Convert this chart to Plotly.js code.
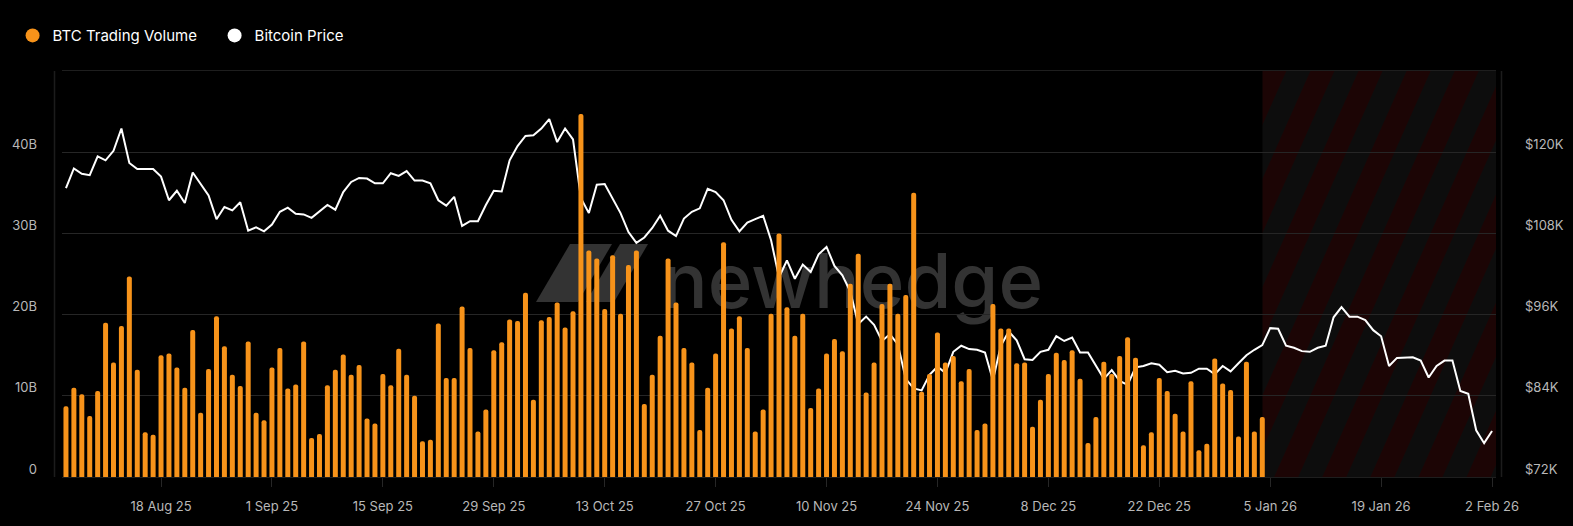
<!DOCTYPE html>
<html>
<head>
<meta charset="utf-8">
<script src="https://cdn.plot.ly/plotly-3.0.1.min.js"></script>
<style>
  html, body { margin: 0; padding: 0; background: #000; }
  #chart { width: 1573px; height: 526px; }
</style>
</head>
<body>
<div id="chart"></div>
<script>
// ---------------- DATA ----------------
const volumeStart = '2025-08-06';   // first daily bar
const priceStart  = '2025-08-06';   // first daily price point

// BTC trading volume, USD billions (daily, 6 Aug 2025 - 4 Jan 2026)
const volumeB = [
  8.7, 11.0, 10.2, 7.5, 10.6, 19.0, 14.1, 18.6, 24.7, 13.2,
  5.5, 5.2, 15.0, 15.2, 13.5, 11.0, 18.1, 7.9, 13.3, 19.8,
  16.1, 12.6, 11.2, 16.7, 7.9, 7.0, 13.5, 15.9, 10.9, 11.4,
  16.7, 4.8, 5.3, 11.3, 13.2, 15.1, 12.6, 13.8, 7.2, 6.6,
  12.7, 11.3, 15.8, 12.6, 10.0, 4.4, 4.6, 18.9, 12.2, 12.2,
  21.0, 15.9, 5.6, 8.3, 15.6, 16.6, 19.4, 19.2, 22.7, 9.5,
  19.3, 19.7, 21.5, 18.4, 20.4, 44.7, 27.9, 26.9, 20.7, 27.3,
  20.1, 26.1, 27.9, 9.0, 12.6, 17.4, 26.9, 21.5, 15.9, 14.1,
  5.8, 11.0, 15.2, 28.9, 18.3, 19.8, 15.9, 5.6, 8.3, 20.1,
  30.0, 20.9, 17.4, 20.1, 8.5, 10.9, 15.2, 17.0, 15.5, 23.8,
  27.5, 10.4, 14.1, 21.3, 23.8, 20.1, 22.4, 35.0, 10.5, 12.7,
  17.8, 14.1, 14.9, 11.8, 13.3, 5.8, 6.6, 21.3, 18.3, 18.3,
  14.0, 14.1, 6.2, 9.5, 12.7, 15.3, 14.4, 15.6, 12.1, 4.2,
  7.4, 14.2, 12.7, 14.9, 17.2, 14.7, 3.9, 5.5, 12.2, 10.6,
  7.8, 5.6, 11.8, 3.3, 4.1, 14.6, 11.5, 10.7, 5.0, 14.2,
  5.6, 7.4
];

// Bitcoin price, USD thousands (daily, 6 Aug 2025 - 2 Feb 2026)
const priceK = [
  114.7, 117.6, 116.8, 116.6, 119.4, 118.8, 120.2, 123.5, 118.4, 117.5,
  117.5, 117.5, 116.4, 112.9, 114.3, 112.5, 117.0, 115.3, 113.6, 110.1,
  111.9, 111.4, 112.6, 108.4, 108.9, 108.3, 109.3, 111.2, 111.8, 110.9,
  110.8, 110.3, 111.2, 112.2, 111.5, 114.1, 115.6, 116.2, 116.1, 115.4,
  115.4, 116.9, 116.5, 117.2, 115.8, 115.8, 115.4, 112.9, 112.1, 113.4,
  109.1, 109.8, 109.8, 112.2, 114.3, 114.2, 118.8, 120.9, 122.4, 122.5,
  123.5, 124.9, 121.5, 123.5, 121.9, 113.2, 111.0, 115.2, 115.3, 113.2,
  111.0, 108.2, 106.6, 107.4, 108.8, 110.6, 108.4, 107.6, 110.2, 111.2,
  111.7, 114.6, 114.1, 112.9, 110.0, 108.3, 109.6, 110.1, 110.6, 107.0,
  101.5, 104.0, 101.3, 103.4, 102.3, 104.9, 106.0, 103.2, 101.8, 99.4,
  94.6, 95.7, 94.5, 92.1, 93.1, 91.6, 86.5, 85.1, 84.8, 87.1,
  88.3, 87.4, 90.5, 91.4, 90.9, 90.8, 90.4, 86.3, 91.4, 93.5,
  92.2, 89.4, 89.3, 90.5, 90.8, 92.8, 92.1, 92.6, 90.4, 90.4,
  88.4, 86.5, 87.8, 86.2, 85.6, 88.2, 88.4, 88.8, 88.6, 87.5,
  87.7, 87.3, 87.4, 88.0, 88.0, 87.2, 88.4, 87.6, 88.8, 90.0,
  90.8, 91.5, 94.0, 93.9, 91.4, 91.1, 90.6, 90.5, 91.1, 91.4,
  95.6, 97.1, 95.7, 95.7, 95.2, 93.7, 92.8, 88.4, 89.6, 89.7,
  89.7, 89.2, 86.7, 88.4, 89.2, 89.2, 84.7, 84.3, 78.9, 77.0,
  78.8
];

// axis ticks
const volTickVals = [0, 10, 20, 30, 40];
const volTickText = ['0', '10B', '20B', '30B', '40B'];
const priceTickVals = [72, 84, 96, 108, 120];
const priceTickText = ['$72K', '$84K', '$96K', '$108K', '$120K'];
const volRange = [0, 50];
const priceRange = [72, 132];
const xRange = ['2025-08-05 12:00', '2026-02-02 12:00'];
const hatchStart = '2026-01-04';
const hatchEnd = '2026-02-02 12:00';

const seriesNames = ['BTC Trading Volume', 'Bitcoin Price'];
const ORANGE = '#F7931A';

// ---------------- HELPERS ----------------
function dayList(start, n) {
  const out = [];
  const t0 = Date.parse(start + 'T00:00:00Z');
  for (let i = 0; i < n; i++) {
    const d = new Date(t0 + i * 86400000);
    out.push(d.toISOString().slice(0, 10));
  }
  return out;
}
const volDates = dayList(volumeStart, volumeB.length);
const priceDates = dayList(priceStart, priceK.length);

function toMs(s) { return Date.parse(s.replace(' ', 'T') + (s.length > 10 ? ':00Z' : 'T00:00:00Z')); }
const r0 = toMs(xRange[0]), r1 = toMs(xRange[1]);
const hx0 = (toMs(hatchStart) - r0) / (r1 - r0);
const hx1 = (toMs(hatchEnd) - r0) / (r1 - r0);

// plot area in pixels (for decoration only)
const M = { l: 62, r: 77, t: 71, b: 49 };
const W = 1573, H = 526;
const PW = W - M.l - M.r, PH = H - M.t - M.b;

// hatch image (diagonal stripes)
const hw = Math.round((hx1 - hx0) * PW), hh = PH;
const hatchSvg =
  `<svg xmlns='http://www.w3.org/2000/svg' width='${hw}' height='${hh}' viewBox='0 0 ${hw} ${hh}' preserveAspectRatio='none'>` +
  `<defs><pattern id='p' patternUnits='userSpaceOnUse' width='44' height='44' patternTransform='rotate(24)'>` +
  `<rect x='0' y='0' width='44' height='44' fill='#0d0d0d'/>` +
  `<rect x='0' y='0' width='22' height='44' fill='#1c0505'/>` +
  `</pattern></defs>` +
  `<rect x='0' y='0' width='${hw}' height='${hh}' fill='url(#p)'/></svg>`;
const hatchSrc = 'data:image/svg+xml;charset=utf-8,' + encodeURIComponent(hatchSvg);

// pixel -> paper helpers for the watermark
function px(X) { return (X - M.l) / PW; }
function py(Y) { return (H - M.b - Y) / PH; }
function pathPx(pts) {
  return 'M' + pts.map(p => px(p[0]).toFixed(5) + ',' + py(p[1]).toFixed(5)).join(' L') + ' Z';
}

// ---------------- TRACES ----------------
const priceTrace = {
  type: 'scatter', mode: 'lines',
  x: priceDates, y: priceK,
  yaxis: 'y', xaxis: 'x',
  line: { color: '#ffffff', width: 2 },
  showlegend: false, hoverinfo: 'skip'
};
const volTrace = {
  type: 'bar',
  x: volDates, y: volumeB,
  yaxis: 'y2', xaxis: 'x',
  marker: { color: ORANGE, cornerradius: 3, line: { width: 0 } },
  showlegend: false, hoverinfo: 'skip'
};
const legVol = {
  type: 'scatter', mode: 'markers', x: [null], y: [null], yaxis: 'y',
  name: seriesNames[0], marker: { color: ORANGE, size: 14, symbol: 'circle' },
  showlegend: true, hoverinfo: 'skip'
};
const legPrice = {
  type: 'scatter', mode: 'markers', x: [null], y: [null], yaxis: 'y',
  name: seriesNames[1], marker: { color: '#ffffff', size: 14, symbol: 'circle' },
  showlegend: true, hoverinfo: 'skip'
};

// ---------------- LAYOUT ----------------
const FONT = 'Inter, "Noto Sans", sans-serif';
const GRID = '#262626';
const layout = {
  width: W, height: H,
  margin: M,
  paper_bgcolor: '#000000',
  plot_bgcolor: '#000000',
  font: { family: FONT, color: '#b8b8b8', size: 13 },
  bargap: 0.37,
  showlegend: true,
  legend: {
    orientation: 'h', xref: 'container', yref: 'container',
    x: 0.008, y: 0.9636, xanchor: 'left', yanchor: 'top',
    entrywidth: 157, entrywidthmode: 'pixels',
    font: { size: 15, color: '#ffffff', family: FONT },
    bgcolor: 'rgba(0,0,0,0)', itemclick: false, itemdoubleclick: false
  },
  xaxis: {
    type: 'date', range: xRange,
    tick0: '2025-08-18', dtick: 14 * 86400000,
    tickformat: '%-d %b %y',
    showgrid: false, zeroline: false,
    showline: true, mirror: true, linecolor: '#1e1e1e', linewidth: 1,
    ticks: 'outside', ticklen: 9, tickcolor: '#262626', tickwidth: 1,
    ticklabelstandoff: 8,
    tickfont: { size: 13, color: '#b8b8b8' },
    fixedrange: true
  },
  yaxis: {
    range: priceRange, side: 'right',
    tickvals: priceTickVals, ticktext: priceTickText,
    showgrid: true, gridcolor: GRID, gridwidth: 1,
    zeroline: false, showline: false, ticks: '',
    ticklabelstandoff: 28, ticklabelshift: -8,
    tickfont: { size: 13, color: '#b8b8b8' },
    fixedrange: true
  },
  yaxis2: {
    range: volRange, side: 'left', overlaying: 'y',
    tickvals: volTickVals, ticktext: volTickText,
    showgrid: false, zeroline: false, showline: false, ticks: '',
    ticklabelstandoff: 24, ticklabelshift: -8,
    tickfont: { size: 13, color: '#b8b8b8' },
    fixedrange: true
  },
  images: [{
    source: hatchSrc, xref: 'paper', yref: 'paper',
    x: hx0, y: 1, sizex: hx1 - hx0, sizey: 1,
    xanchor: 'left', yanchor: 'top', sizing: 'stretch', layer: 'below'
  }],
  shapes: [
    // outer vertical frame lines
    { type: 'line', xref: 'paper', yref: 'paper', x0: px(54.5), x1: px(54.5), y0: 0, y1: 1,
      line: { color: '#1c1c1c', width: 1.5 }, layer: 'below' },
    { type: 'line', xref: 'paper', yref: 'paper', x0: px(1501.5), x1: px(1501.5), y0: 0, y1: 1,
      line: { color: '#1c1c1c', width: 1.5 }, layer: 'below' },
    // watermark logo
    { type: 'path', xref: 'paper', yref: 'paper', layer: 'below',
      path: pathPx([[536, 302], [570, 244], [648, 244], [614, 302]]),
      fillcolor: '#333333', line: { width: 0 } },
    { type: 'path', xref: 'paper', yref: 'paper', layer: 'below',
      path: pathPx([[578, 302], [612, 244], [620, 244], [586, 302]]),
      fillcolor: '#000000', line: { width: 0 } },
    // watermark text
    { type: 'rect', xref: 'paper', yref: 'paper', layer: 'below',
      x0: px(660), x1: px(1045), y0: py(320), y1: py(235),
      fillcolor: 'rgba(0,0,0,0)', line: { width: 0 },
      label: { text: 'newhedge', textposition: 'middle center',
               font: { size: 76, color: '#333333', family: FONT, weight: 500 } } }
  ],
  hovermode: false
};

Plotly.newPlot('chart', [priceTrace, volTrace, legVol, legPrice], layout,
  { displayModeBar: false, staticPlot: true });
</script>
</body>
</html>
